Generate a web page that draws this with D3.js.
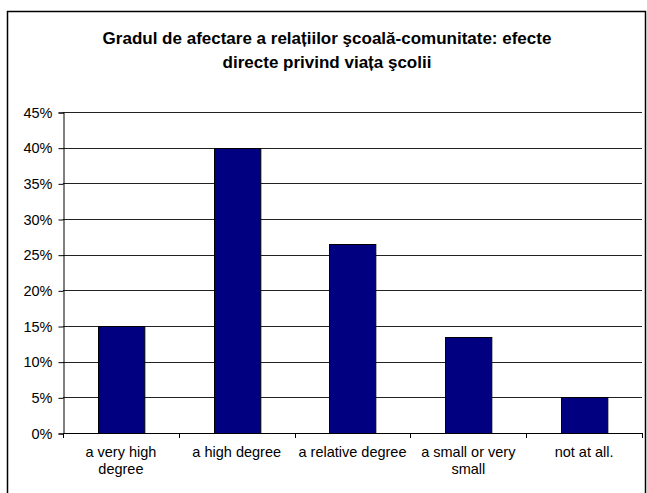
<!DOCTYPE html>
<html>
<head>
<meta charset="utf-8">
<script src="https://cdn.jsdelivr.net/npm/d3@7"></script>
<style>
  body { margin: 0; background: #fff; }
  text { font-family: "Liberation Sans", Arial, sans-serif; }
</style>
</head>
<body>
<svg id="chart" width="647" height="493"></svg>
<script>
// chart data
var categories = [["a very high", "degree"], ["a high degree"], ["a relative degree"], ["a small or very", "small"], ["not at all."]];
var values = [0.15, 0.40, 0.265, 0.135, 0.05];
var yTicks = [0, 0.05, 0.10, 0.15, 0.20, 0.25, 0.30, 0.35, 0.40, 0.45];
var titleLines = ["Gradul de afectare a relațiilor şcoală-comunitate: efecte", "directe privind viața şcolii"];

var svg = d3.select("#chart");

//outer frame
svg.append("rect")
    .attr("x", 7.5).attr("y", 11.5)
    .attr("width", 638).attr("height", 500)
    .attr("fill", "none")
    .attr("stroke", "#000")
    .attr("stroke-width", 1.5);

//title
svg.append("g").selectAll("text")
    .data(titleLines)
    .enter().append("text")
    .attr("x", 327)
    .attr("y", function(d, i) { return 44 + i * 24; })
    .attr("text-anchor", "middle")
    .style("font-size", "17px")
    .style("font-weight", "bold")
    .text(function(d) { return d; });

var plotLeft = 63, plotRight = 642, plotTop = 112, plotBottom = 433;

var x = d3.scaleBand()
    .domain(d3.range(categories.length))
    .range([plotLeft, plotRight])
    .paddingInner(0.6)
    .paddingOuter(0.3);

var y = d3.scaleLinear()
    .domain([0, 0.45])
    .range([plotBottom, plotTop]);

//gridlines
svg.append("g").selectAll("line")
    .data(yTicks.slice(1))
    .enter().append("line")
    .attr("x1", plotLeft).attr("x2", plotRight)
    .attr("y1", function(d) { return Math.round(y(d)) + 0.5; })
    .attr("y2", function(d) { return Math.round(y(d)) + 0.5; })
    .attr("stroke", "#222")
    .attr("stroke-width", 1);

//bars
svg.append("g").selectAll("rect")
    .data(values)
    .enter().append("rect")
    .attr("x", function(d, i) { return Math.round(x(i)) + 0.5; })
    .attr("y", function(d) { return Math.round(y(d)) + 0.5; })
    .attr("width", x.bandwidth())
    .attr("height", function(d) { return plotBottom - Math.round(y(d)); })
    .attr("fill", "#000080")
    .attr("stroke", "#000")
    .attr("stroke-width", 1);

//y axis
var yAxis = d3.axisLeft(y)
    .tickValues(yTicks)
    .tickSize(5)
    .tickPadding(6)
    .tickFormat(d3.format(".0%"));

var gy = svg.append("g")
    .attr("transform", "translate(" + (plotLeft + 0.5) + ",0.5)")
    .call(yAxis);
gy.select(".domain").attr("stroke", "#000");
gy.selectAll(".tick line").attr("stroke", "#000");
gy.selectAll(".tick text")
    .style("font-size", "14.5px")
    .style("font-family", "'Liberation Sans', Arial, sans-serif")
    .attr("fill", "#000");

//x axis (ticks at category boundaries)
var step = (plotRight - plotLeft) / categories.length;
var gx = svg.append("g");
gx.append("line")
    .attr("x1", plotLeft).attr("x2", plotRight + 0.5)
    .attr("y1", plotBottom + 0.5).attr("y2", plotBottom + 0.5)
    .attr("stroke", "#000");
gx.selectAll(".xt")
    .data(d3.range(categories.length + 1))
    .enter().append("line")
    .attr("class", "xt")
    .attr("x1", function(d) { return Math.round(plotLeft + d * step) + 0.5; })
    .attr("x2", function(d) { return Math.round(plotLeft + d * step) + 0.5; })
    .attr("y1", plotBottom).attr("y2", plotBottom + 5)
    .attr("stroke", "#000");

//category labels
var labels = gx.selectAll(".xl")
    .data(categories)
    .enter().append("text")
    .attr("class", "xl")
    .attr("text-anchor", "middle")
    .style("font-size", "14.5px");
labels.selectAll("tspan")
    .data(function(d, i) { return d.map(function(t) { return {t: t, i: i}; }); })
    .enter().append("tspan")
    .attr("x", function(d) { return x(d.i) + x.bandwidth() / 2; })
    .attr("y", function(d, j) { return 457 + j * 17; })
    .text(function(d) { return d.t; });
</script>
</body>
</html>
